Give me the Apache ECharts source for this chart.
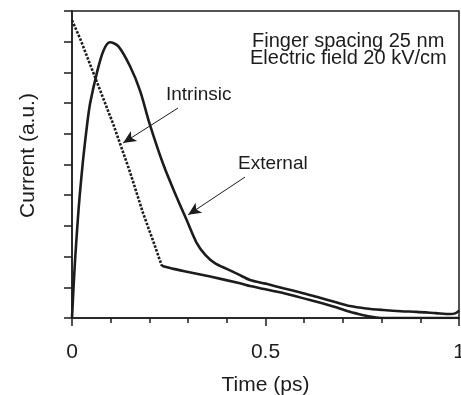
<!DOCTYPE html>
<html>
<head>
<meta charset="utf-8">
<script src="https://cdn.jsdelivr.net/npm/echarts@6/dist/echarts.min.js"></script>
<style>
	html,body{margin:0;padding:0;background:#fff;}
	#chart1{width:461px;height:395px;}
</style>
</head>
<body>
<div id="chart1"></div>
<script>
// external (measured) current
var extX=[0,0.004,0.008,0.015,0.02,0.029,0.04,0.047,0.064,0.081,0.098,0.12,0.15,0.176,0.2,0.236,0.27,0.296,0.322,0.345,0.37,0.4,0.43,0.46,0.5,0.546,0.6,0.632,0.68,0.718,0.76,0.804,0.85,0.89,0.94,0.977,0.99,1.0];
var extY=[0,1.0,1.9,3.2,4.0,5.2,6.4,7.0,7.97,8.7,8.98,8.85,8.2,7.4,6.35,5.0,3.95,3.2,2.45,2.05,1.78,1.6,1.42,1.24,1.12,0.97,0.8,0.69,0.52,0.39,0.31,0.26,0.22,0.2,0.16,0.13,0.15,0.24];
// intrinsic current: dotted drop, then solid tail
var dropX=[0,0.021,0.064,0.107,0.15,0.184,0.21,0.232];
var dropY=[9.7,9.1,7.7,6.3,4.75,3.4,2.5,1.7];
var tailX=[0.232,0.262,0.3,0.357,0.434,0.46,0.486,0.55,0.632,0.68,0.718,0.75,0.778,0.8,0.9,1.0];
var tailY=[1.7,1.6,1.5,1.35,1.13,1.04,0.97,0.8,0.53,0.36,0.2,0.1,0.03,0,0,0];
// arrows [fromX,fromY,toX,toY]
var arrowIntrinsic=[0.274,6.84,0.132,5.7];
var arrowExternal=[0.447,4.59,0.30,3.36];

var fontName='"Liberation Sans", Arial, sans-serif';
var ink='#1c1c1c';

function zip(xs,ys){
	var out=[];
	for(var i=0;i<xs.length;i++){out.push([xs[i],ys[i]]);}
	return out;
}
function arrow(a){
	return [{coord:[a[0],a[1]]},{coord:[a[2],a[3]]}];
}

function chart1(){
	var myChart = echarts.init(document.getElementById('chart1'));
	var option = {
		animation:false,
		backgroundColor:'#fff',
		textStyle:{fontFamily:fontName,color:ink},
		grid:{
			left:72,
			top:11,
			right:2,
			bottom:77,
			outerBoundsMode:'none',
			containLabel:false,
			show:true,
			borderColor:ink,
			borderWidth:1.5
		},
		xAxis:{
			type:'value',
			min:0,
			max:1,
			interval:0.5,
			name:'Time (ps)',
			nameLocation:'middle',
			nameGap:57,
			nameTextStyle:{fontSize:21,color:ink,fontFamily:fontName},
			axisLine:{show:true,lineStyle:{color:ink,width:1.5}},
			axisTick:{show:true,length:8,lineStyle:{color:ink,width:1.5}},
			minorTick:{show:true,splitNumber:5,length:5,lineStyle:{color:ink,width:1.5}},
			axisLabel:{fontSize:21,color:ink,margin:24,fontFamily:fontName},
			splitLine:{show:false}
		},
		yAxis:{
			type:'value',
			min:0,
			max:10,
			interval:1,
			name:'Current (a.u.)',
			nameLocation:'middle',
			nameGap:33,
			nameTextStyle:{fontSize:21,color:ink,fontFamily:fontName,padding:[0,0,0,18]},
			axisLine:{show:true,lineStyle:{color:ink,width:1.5}},
			axisTick:{show:true,length:8,lineStyle:{color:ink,width:1.5}},
			axisLabel:{show:false},
			splitLine:{show:false}
		},
		series:[
			{
				name:'External',
				type:'line',
				data:zip(extX,extY),
				smooth:0.3,
				showSymbol:false,
				lineStyle:{color:ink,width:2.6},
				markLine:{
					silent:true,
					symbol:['none','arrow'],
					symbolSize:[9,13],
					label:{show:false},
					lineStyle:{color:ink,width:1,type:'solid'},
					data:[arrow(arrowIntrinsic),arrow(arrowExternal)]
				}
			},
			{
				name:'Intrinsic',
				type:'line',
				data:zip(dropX,dropY),
				showSymbol:false,
				lineStyle:{color:ink,width:2.6,type:[2.5,1.5]}
			},
			{
				name:'Intrinsic tail',
				type:'line',
				data:zip(tailX,tailY),
				smooth:0.2,
				showSymbol:false,
				lineStyle:{color:ink,width:2.6}
			}
		],
		graphic:[
			{type:'text',left:252,top:31,style:{text:'Finger spacing 25 nm',font:'20px '+fontName,fill:ink}},
			{type:'text',left:250,top:48,style:{text:'Electric field 20 kV/cm',font:'20px '+fontName,fill:ink}},
			{type:'text',left:166,top:85,style:{text:'Intrinsic',font:'19px '+fontName,fill:ink}},
			{type:'text',left:238,top:154,style:{text:'External',font:'19px '+fontName,fill:ink}}
		]
	};
	myChart.setOption(option);
	window.addEventListener("resize",function() {
		myChart.resize();
	})
}

chart1();
</script>
</body>
</html>
